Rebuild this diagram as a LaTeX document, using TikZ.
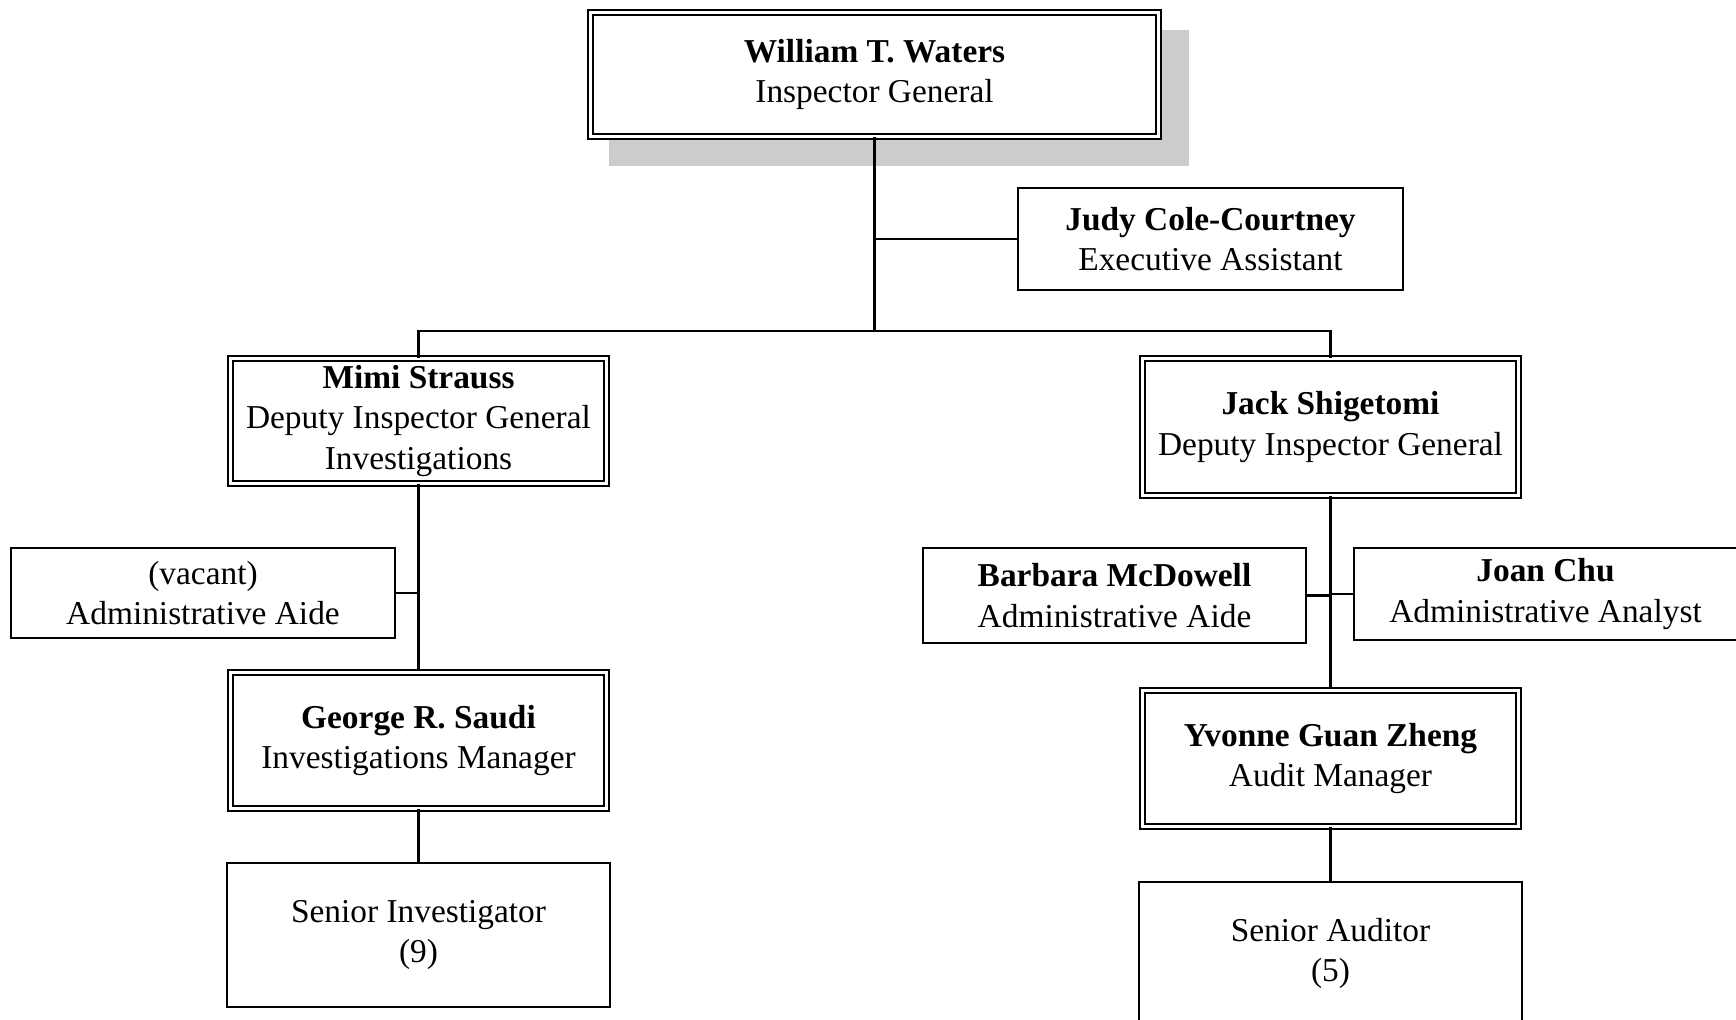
\documentclass[tikz,border=0pt]{standalone}
\usepackage{fontspec}
\setmainfont{Liberation Serif}
\usetikzlibrary{positioning,backgrounds}
\definecolor{shd}{HTML}{CCCCCC}
\newcommand{\who}[1]{\textbf{#1}}
\tikzset{
  pbox/.style={draw,fill=white,line width=0.6pt,align=center,inner sep=0pt,minimum width=38.3mm,
    font=\fontsize{9.5}{11.5}\selectfont},
  dbox/.style={pbox,double,line width=0.5pt,double distance=0.9pt,minimum width=37.6mm},
  ln/.style={line width=0.6pt},
}
\begin{document}
\begin{tikzpicture}[x=1mm,y=-1mm]
  \useasboundingbox (0,0) rectangle (173.6,101.9);
  % ---- top of the office
  \node[dbox,minimum width=56.8mm,minimum height=12.4mm]
       (ig) at (87.45,7.45) {\who{William T. Waters}\\Inspector General};
  \begin{scope}[on background layer]
    \fill[shd] ([shift={(1.95,1.85)}]ig.north west) rectangle ([shift={(2.95,2.85)}]ig.south east);
  \end{scope}
  \node[pbox,minimum width=38.5mm,minimum height=10.2mm] (ea) at (121.05,23.9)
       {\who{Judy Cole-Courtney}\\Executive Assistant};
  \coordinate (bar) at (87.45,33.1);
  \draw[ln] (ig.south) -- (bar);
  \draw[ln] (ea.west) -- (ea.west -| ig.south);

  % ---- left: investigations
  \node[dbox,minimum height=12.5mm] (dinv) at (41.85,42.1)
       {\who{Mimi Strauss}\\Deputy Inspector General\\Investigations};
  \node[pbox,minimum width=38.4mm,minimum height=9mm] (aide1) at (20.3,59.3)
       {(vacant)\\Administrative Aide};
  \node[dbox,minimum height=13.6mm,below=18.7mm of dinv] (invm)
       {\who{George R. Saudi}\\Investigations Manager};
  \node[pbox,minimum height=14.4mm,below=5.25mm of invm] (sinv)
       {Senior Investigator\\(9)};
  \draw[ln] (dinv.south) -- (invm.north);
  \draw[ln] (aide1.east) -- (aide1.east -| dinv.south);
  \draw[ln] (invm.south) -- (sinv.north);

  % ---- right: audits
  \node[dbox,minimum height=13.7mm] (daud) at (133.05,42.7)
       {\who{Jack Shigetomi}\\Deputy Inspector General};
  \node[pbox,minimum height=9.5mm] (aide2) at (111.45,59.55)
       {\who{Barbara McDowell}\\Administrative Aide};
  \node[pbox,minimum height=9.2mm] (anl) at (154.55,59.4)
       {\who{Joan Chu}\\Administrative Analyst};
  \node[dbox,minimum height=13.6mm,below=19.3mm of daud] (audm)
       {\who{Yvonne Guan Zheng}\\Audit Manager};
  \node[pbox,minimum height=14.3mm,below=5.35mm of audm] (saud)
       {Senior Auditor\\(5)};
  \draw[ln] (daud.south) -- (audm.north);
  \draw[ln] (aide2.east) -- (aide2.east -| daud.south);
  \draw[ln] (anl.west) -- (anl.west -| daud.south);
  \draw[ln] (audm.south) -- (saud.north);

  \draw[ln] (dinv.north) |- (bar) -| (daud.north);
\end{tikzpicture}
\end{document}
